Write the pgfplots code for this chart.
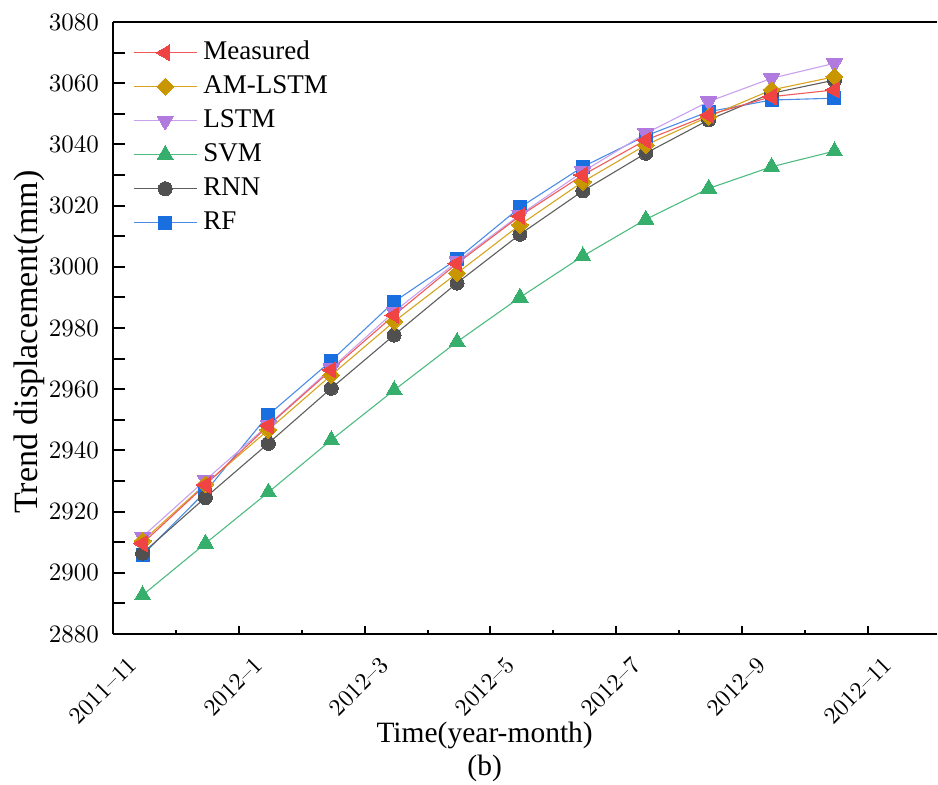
\documentclass[border=0pt]{standalone}
\usepackage{fontspec}
\usepackage{pgfplots}
\pgfplotsset{compat=1.18}
\newfontfamily\tnr{Liberation Serif}
\newfontfamily\lmten[Extension=.otf, Ligatures=TeX]{lmroman10-regular}
\definecolor{mMea}{HTML}{F04444}\definecolor{lMea}{HTML}{F25A5A}
\definecolor{mAM}{HTML}{C99600}\definecolor{lAM}{HTML}{D8A420}
\definecolor{mLS}{HTML}{B07ADF}\definecolor{lLS}{HTML}{C7A0EE}
\definecolor{mSV}{HTML}{36AE6C}\definecolor{lSV}{HTML}{4EBC80}
\definecolor{mRN}{HTML}{505050}\definecolor{lRN}{HTML}{5E5E5E}
\definecolor{mRF}{HTML}{1A6FE0}\definecolor{lRF}{HTML}{4A8CE8}
\begin{document}
\begin{tikzpicture}
\begin{axis}[
  at={(0,0)}, anchor=south west,
  scale only axis, width=824pt, height=612pt,
  xmin=0, xmax=13.1, ymin=2880, ymax=3080,
  axis x line=box, axis y line=left, axis line style={-, line width=2.4pt},
  xtick pos=left, tick align=inside,
  xtick={0,2,4,6,8,10,12},
  xticklabels={2011–11,2012–1,2012–3,2012–5,2012–7,2012–9,2012–11},
  minor x tick num=1,
  ytick={2880,2900,...,3080}, minor y tick num=1,
  major tick length=12pt, minor tick length=12pt,
  xtick style={/pgfplots/major tick length=8pt,/pgfplots/minor tick length=4pt},
  tick style={line width=2pt, black},
  scaled y ticks=false,
  /pgf/number format/assume math mode=true,
  yticklabel style={/pgf/number format/1000 sep={}, anchor=east, inner sep=0pt, xshift=-14pt, font=\lmten\fontsize{25}{29}\selectfont},
  xticklabel style={rotate=45, anchor=north east, inner sep=0pt, xshift=-4.9pt, yshift=-24.7pt, font=\lmten\fontsize{24}{28}\selectfont},
  xlabel={Time(year-month)},
  xlabel style={at={(axis description cs:0.451,-0.178)}, anchor=base, font=\tnr\fontsize{29.5}{34}\selectfont},
  ylabel={Trend displacement(mm)},
  ylabel style={at={(axis description cs:-0.0922,0.477)}, anchor=base, font=\tnr\fontsize{34}{40}\selectfont},
  extra description/.code={\node[font=\tnr\fontsize{29.5}{34}\selectfont, anchor=base] at (0.451,-0.232) {(b)};},
  legend image code/.code={\draw[mark repeat=2,mark phase=2] plot coordinates {(0pt,0pt) (31.5pt,0pt) (63pt,0pt)};},
  reverse legend,
  legend cell align=left,
  legend style={draw=none, fill=none, at={(axis description cs:0,1)}, anchor=north west, xshift=20pt, yshift=-18pt,
    font=\tnr\fontsize{27}{32}\selectfont, inner sep=0pt, row sep=9pt, column sep=6pt,
    nodes={inner sep=0pt, text height=19pt, text depth=6pt}},
  every axis plot/.append style={line width=1.1pt},
]
\addplot[color=lRF, mark=square*, mark size=6.5pt, mark options={fill=mRF, draw=mRF, line width=0pt}] coordinates {
(0.47,2905.8)(1.47,2926.5)(2.47,2951.6)(3.47,2969.3)(4.47,2988.6)(5.47,3002.5)(6.47,3019.4)(7.47,3032.7)(8.47,3042.8)(9.47,3050.7)(10.47,3054.5)(11.47,3055.1)};
\addlegendentry{RF}
\addplot[color=lRN, mark=*, mark size=7pt, mark options={fill=mRN, draw=mRN, line width=0pt}] coordinates {
(0.47,2906.4)(1.47,2924.6)(2.47,2942.3)(3.47,2960.3)(4.47,2977.7)(5.47,2994.7)(6.47,3010.6)(7.47,3024.8)(8.47,3037.1)(9.47,3048.0)(10.47,3056.7)(11.47,3061.0)};
\addlegendentry{RNN}
\addplot[color=lSV, mark=triangle*, mark size=9.3pt, mark options={fill=mSV, draw=mSV, line width=0pt}] coordinates {
(0.47,2892.7)(1.47,2909.6)(2.47,2926.3)(3.47,2943.4)(4.47,2959.7)(5.47,2975.5)(6.47,2990.0)(7.47,3003.5)(8.47,3015.5)(9.47,3025.6)(10.47,3032.7)(11.47,3037.8)};
\addlegendentry{SVM}
\addplot[color=lLS, mark=triangle*, mark size=9.3pt, mark options={fill=mLS, draw=mLS, line width=0pt, rotate=180}] coordinates {
(0.47,2911.8)(1.47,2930.3)(2.47,2948.3)(3.47,2966.8)(4.47,2985.3)(5.47,3001.7)(6.47,3017.0)(7.47,3031.1)(8.47,3043.6)(9.47,3054.0)(10.47,3061.6)(11.47,3066.5)};
\addlegendentry{LSTM}
\addplot[color=lAM, mark=square*, mark size=6pt, mark options={fill=mAM, draw=mAM, line width=0pt, rotate=45}] coordinates {
(0.47,2910.4)(1.47,2929.0)(2.47,2946.7)(3.47,2964.6)(4.47,2982.1)(5.47,2997.9)(6.47,3013.7)(7.47,3027.8)(8.47,3039.8)(9.47,3049.1)(10.47,3057.8)(11.47,3062.1)};
\addlegendentry{AM-LSTM}
\addplot[color=lMea, mark=triangle*, mark size=9.3pt, mark options={fill=mMea, draw=mMea, line width=0pt, rotate=90}] coordinates {
(0.47,2909.6)(1.47,2928.7)(2.47,2948.1)(3.47,2966.3)(4.47,2984.2)(5.47,3001.1)(6.47,3016.6)(7.47,3030.0)(8.47,3041.4)(9.47,3049.6)(10.47,3055.6)(11.47,3057.8)};
\addlegendentry{Measured}
\end{axis}
\pgfresetboundingbox
\path (0,0) ++(-113pt,-151pt) rectangle ++(938pt,785pt);
\end{tikzpicture}
\end{document}
